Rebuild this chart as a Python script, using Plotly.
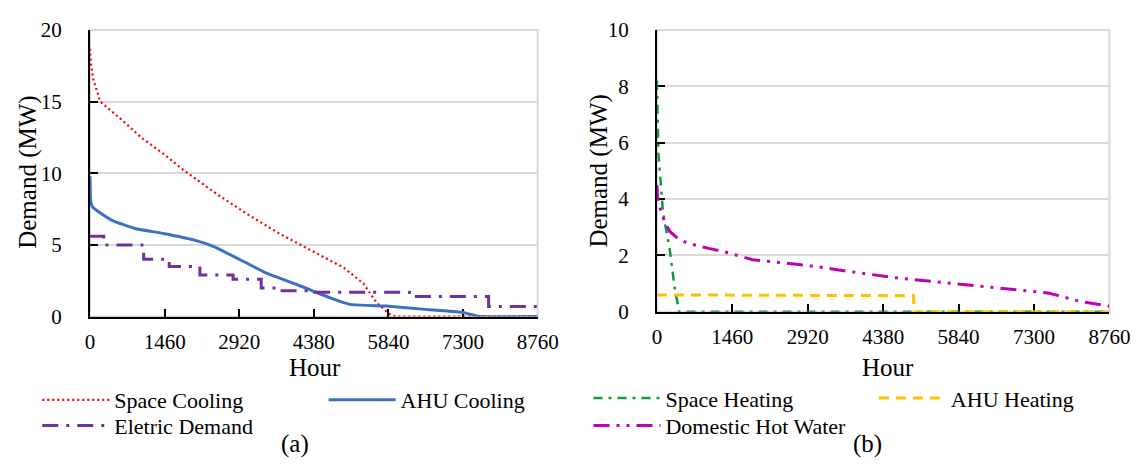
import plotly.graph_objects as go

W, H = 1148, 468

hour_ticks = [0, 1460, 2920, 4380, 5840, 7300, 8760]

# (a) cooling / electric load duration curves (MW)
space_cooling_h = [0, 20, 60, 200, 600, 1000, 1460, 1800, 2500, 3100, 3700, 4380, 4970, 5350, 5600, 5850, 5980, 8760]
space_cooling_v = [18.7, 17.6, 16.6, 15.0, 13.8, 12.5, 11.3, 10.3, 8.5, 7.1, 5.8, 4.5, 3.4, 2.3, 1.0, 0.2, 0.0, 0.0]

ahu_cooling_h = [0, 15, 60, 153, 440, 880, 1434, 2030, 2410, 2920, 3440, 4070, 4320, 4700, 5090, 5800, 6560, 7270, 7650, 8760]
ahu_cooling_v = [9.8, 8.0, 7.6, 7.35, 6.7, 6.15, 5.8, 5.35, 4.9, 4.0, 3.05, 2.2, 1.85, 1.3, 0.85, 0.73, 0.5, 0.3, 0.0, 0.0]

electric_h = [0, 270, 1050, 1550, 2150, 2800, 3350, 3700, 4400, 6250, 7800, 8760]
electric_v = [5.6, 5.0, 4.0, 3.5, 2.9, 2.6, 2.0, 1.8, 1.7, 1.4, 0.7, 0.7]

# (b) heating load duration curves (MW)
space_heating_h = [0, 30, 120, 250, 340, 430, 8760]
space_heating_v = [8.2, 5.6, 3.5, 2.2, 0.9, 0.0, 0.0]

ahu_heating_h = [0, 4970, 4975, 8760]
ahu_heating_v = [0.6, 0.57, 0.0, 0.0]

dhw_h = [0, 20, 150, 250, 435, 625, 1000, 1325, 1850, 2200, 3120, 3650, 4600, 5545, 6430, 7300, 7570, 8190, 8760]
dhw_v = [4.5, 3.9, 3.2, 2.85, 2.56, 2.42, 2.25, 2.12, 1.85, 1.78, 1.6, 1.45, 1.21, 1.04, 0.88, 0.74, 0.67, 0.37, 0.2]

FONT = "Liberation Serif"

def px(x):
    return x / W

def py(y):
    return 1 - y / H

fig = go.Figure()

fig.add_trace(go.Scatter(x=space_cooling_h, y=space_cooling_v, mode="lines", name="Space Cooling",
                         line=dict(color="#ff0000", width=2.2, dash="2px,3px"),
                         xaxis="x", yaxis="y", legend="legend", showlegend=True))
fig.add_trace(go.Scatter(x=ahu_cooling_h, y=ahu_cooling_v, mode="lines", name="AHU Cooling",
                         line=dict(color="#3b70c4", width=3, shape="spline", smoothing=0.4),
                         xaxis="x", yaxis="y", legend="legend2", showlegend=True))
fig.add_trace(go.Scatter(x=electric_h, y=electric_v, mode="lines", name="Eletric Demand",
                         line=dict(color="#7030a0", width=3, dash="16px,8px,3px,8px", shape="hv"),
                         xaxis="x", yaxis="y", legend="legend3", showlegend=True))

fig.add_trace(go.Scatter(x=space_heating_h, y=space_heating_v, mode="lines", name="Space Heating",
                         line=dict(color="#109a3c", width=2.5, dash="9px,6px,3px,6px"),
                         xaxis="x2", yaxis="y2", legend="legend4", showlegend=True))
fig.add_trace(go.Scatter(x=ahu_heating_h, y=ahu_heating_v, mode="lines", name="AHU Heating",
                         line=dict(color="#ffc000", width=3, dash="10px,7px"),
                         xaxis="x2", yaxis="y2", legend="legend5", showlegend=True))
fig.add_trace(go.Scatter(x=dhw_h, y=dhw_v, mode="lines", name="Domestic Hot Water",
                         line=dict(color="#c000b4", width=3, dash="16px,7px,3px,7px,3px,7px"),
                         xaxis="x2", yaxis="y2", legend="legend6", showlegend=True))

tick_font = dict(family=FONT, size=21, color="black")

def xaxis_cfg(dom, anchor):
    return dict(domain=dom, anchor=anchor, range=[0, 8760], tickmode="array", tickvals=hour_ticks,
                ticktext=[str(t) for t in hour_ticks], showgrid=False, ticklabelstandoff=5,
                showline=True, linecolor="black", linewidth=2,
                ticks="inside", ticklen=8, tickwidth=2, tickcolor="black",
                tickfont=tick_font, zeroline=False, layer="below traces")

def yaxis_cfg(dom, anchor, rng, vals):
    return dict(domain=dom, anchor=anchor, range=rng, tickmode="array", tickvals=vals,
                showgrid=True, gridcolor="#d9d9d9", gridwidth=2, ticklabelstandoff=22,
                showline=True, linecolor="black", linewidth=2,
                ticks="inside", ticklen=8, tickwidth=2, tickcolor="black",
                tickfont=tick_font, zeroline=False, layer="below traces")

fig.update_layout(
    width=W, height=H,
    margin=dict(l=0, r=0, t=0, b=0),
    paper_bgcolor="white", plot_bgcolor="white",
    font=dict(family=FONT, color="black", size=21),
    showlegend=True,
    xaxis=xaxis_cfg([px(87), px(545)], "y"),
    yaxis=yaxis_cfg([py(321), py(19)], "x", [0, 20], [0, 5, 10, 15, 20]),
    xaxis2=xaxis_cfg([px(667), px(1130)], "y2"),
    yaxis2=yaxis_cfg([py(316), py(19)], "x2", [0, 10], [0, 2, 4, 6, 8, 10]),
    shapes=[
        dict(type="rect", xref="x domain", yref="y domain", x0=0, x1=1, y0=0, y1=1,
             line=dict(color="#d9d9d9", width=2), layer="below"),
        dict(type="rect", xref="x2 domain", yref="y2 domain", x0=0, x1=1, y0=0, y1=1,
             line=dict(color="#d9d9d9", width=2), layer="below"),
    ],
)

leg_font = dict(family=FONT, size=22, color="black")
def leg(xp, yp):
    return dict(x=px(xp), y=py(yp), xanchor="left", yanchor="middle", xref="paper", yref="paper",
                font=leg_font, bgcolor="rgba(0,0,0,0)", itemwidth=67, borderwidth=0,
                tracegroupgap=0, visible=True)

fig.update_layout(
    legend=leg(33, 409),
    legend2=leg(326, 409),
    legend3=leg(33, 436),
    legend4=leg(597, 407),
    legend5=leg(889, 407),
    legend6=leg(597, 436),
)

ann_font = dict(family=FONT, size=25, color="black")
annotations = [
    dict(text="Demand (MW)", x=px(24), y=py(169), textangle=-90),
    dict(text="Hour", x=px(317), y=py(375)),
    dict(text="(a)", x=px(297), y=py(455)),
    dict(text="Demand (MW)", x=px(608), y=py(168), textangle=-90),
    dict(text="Hour", x=px(903), y=py(375)),
    dict(text="(b)", x=px(882), y=py(455)),
]
for a in annotations:
    a.update(xref="paper", yref="paper", showarrow=False, font=ann_font,
             xanchor="center", yanchor="middle", borderpad=0)
fig.update_layout(annotations=annotations)

fig.write_html("out.html")
